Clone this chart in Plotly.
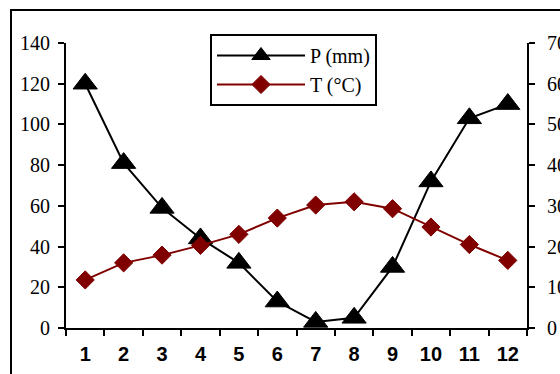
import plotly.graph_objects as go

months = ["1", "2", "3", "4", "5", "6", "7", "8", "9", "10", "11", "12"]
precip_mm = [120, 81, 59, 44, 32, 13, 3, 5, 30, 72, 103, 110]
temp_c = [11.8, 16, 17.9, 20.3, 23, 27, 30.2, 31, 29.3, 24.8, 20.5, 16.6]

left_ticks = [0, 20, 40, 60, 80, 100, 120, 140]
right_ticks = [0, 10, 20, 30, 40, 50, 60, 70]

fig = go.Figure()
fig.add_trace(go.Scatter(
    x=months, y=precip_mm, name="P (mm)", mode="lines+markers",
    line=dict(color="black", width=2),
    marker=dict(symbol="triangle-up", size=21, color="black",
                line=dict(color="black", width=1)),
    yaxis="y"))
fig.add_trace(go.Scatter(
    x=months, y=temp_c, name="T (°C)", mode="lines+markers",
    line=dict(color="#800000", width=2),
    marker=dict(symbol="diamond", size=14, color="#800000",
                line=dict(color="#800000", width=1)),
    yaxis="y2"))

L, R, T, B = 66, 33, 43, 46
W, H = 560, 374
pw, ph = W - L - R, H - T - B

fig.update_layout(
    width=W, height=H,
    margin=dict(l=L, r=R, t=T, b=B, pad=0),
    paper_bgcolor="white", plot_bgcolor="white",
    showlegend=True,
    legend=dict(
        x=(210 - L) / pw, y=(H - B - 34) / ph, xanchor="left", yanchor="top",
        bordercolor="black", borderwidth=2, bgcolor="white",
        font=dict(family="Liberation Serif", size=20, color="black"),
        itemwidth=88, tracegroupgap=2,
    ),
    xaxis=dict(
        type="category", categoryorder="array", categoryarray=months,
        range=[-0.5, len(months) - 0.5], automargin=False,
        showline=True, linecolor="black", linewidth=2,
        ticks="outside", ticklen=6, tickwidth=2, tickcolor="black",
        tickson="boundaries", showgrid=False, zeroline=False,
        ticklabelstandoff=7,
        tickfont=dict(family="Liberation Sans", size=20, color="black", weight="bold"),
    ),
    yaxis=dict(
        range=[0, 140], tickvals=left_ticks, showgrid=False, zeroline=False,
        automargin=False,
        showline=True, linecolor="black", linewidth=2,
        ticks="outside", ticklen=6, tickwidth=2, tickcolor="black",
        ticklabelstandoff=4,
        tickfont=dict(family="Liberation Serif", size=20, color="black"),
    ),
    yaxis2=dict(
        range=[0, 70], tickvals=right_ticks, overlaying="y", side="right",
        showgrid=False, zeroline=False, automargin=False,
        showline=True, linecolor="black", linewidth=2,
        ticks="outside", ticklen=6, tickwidth=2, tickcolor="black",
        ticklabelstandoff=8,
        tickfont=dict(family="Liberation Serif", size=20, color="black"),
    ),
    shapes=[dict(
        type="rect", xref="paper", yref="paper",
        x0=(11 - L) / pw, x1=1.3, y0=-0.4, y1=(H - B - 10) / ph,
        line=dict(color="black", width=2), fillcolor="rgba(0,0,0,0)", layer="below",
    )],
)

fig.write_html("out.html")
